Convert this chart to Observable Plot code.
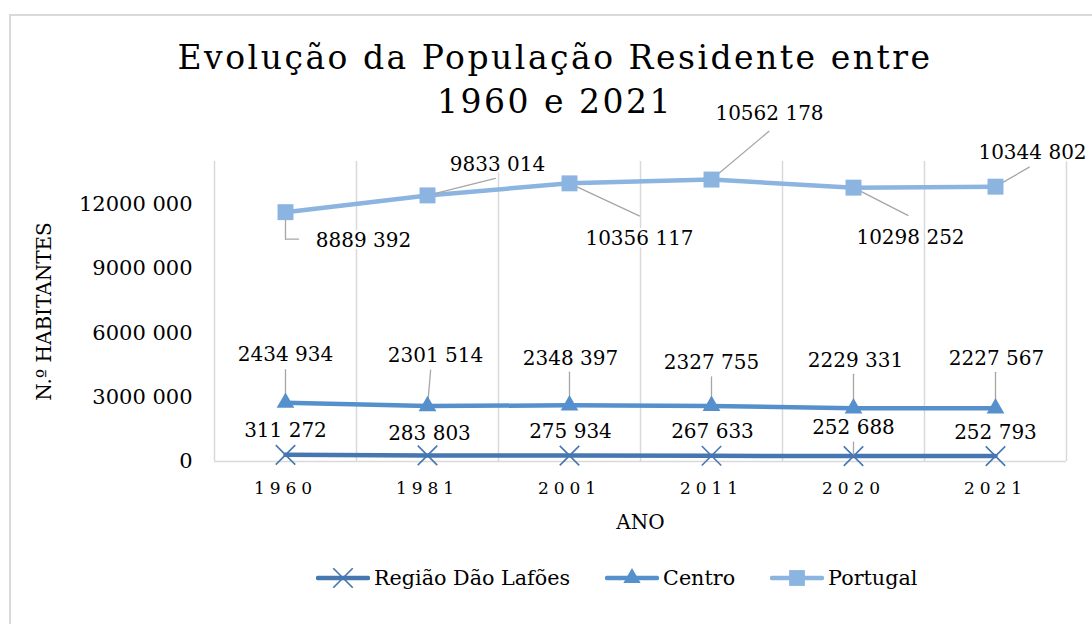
<!DOCTYPE html>
<html>
<head>
<meta charset="utf-8">
<script src="https://cdn.jsdelivr.net/npm/d3@7"></script>
<script src="https://cdn.jsdelivr.net/npm/@observablehq/plot@0.6"></script>
<style>
  html, body { margin: 0; padding: 0; background: #fff; }
  #wrap { position: relative; width: 1092px; height: 624px; overflow: hidden; background: #fff; font-family: "DejaVu Serif", serif; }
  #frame { position: absolute; left: 9px; top: 14px; width: 2000px; height: 2000px; border-left: 2px solid #d9d9d9; border-top: 2px solid #d9d9d9; }
  #chart { position: absolute; left: 0; top: 0; }
  #title { position: absolute; left: 0; top: 36px; width: 1110px; text-align: center; font-size: 33px; line-height: 44px; letter-spacing: 2.5px; color: #000; }
  #legend { position: absolute; left: 316px; top: 566px; display: flex; align-items: center; gap: 35px; font-size: 20.7px; color: #000; }
  #legend .item { display: flex; align-items: center; gap: 4px; }
  #legend svg { display: block; }
  g[aria-label="x-axis tick label"] text { letter-spacing: 5px; }
  g[aria-label="y-axis label"] text { font-size: 20px; }
  g[aria-label="x-axis label"] text { font-size: 20px; }
</style>
</head>
<body>
<div id="wrap">
  <div id="frame"></div>
  <div id="chart"></div>
  <div id="title">Evolução da População Residente entre<br>1960 e 2021</div>
  <div id="legend"></div>
</div>
<script>
// ---- data ----
const years = ["1960", "1981", "2001", "2011", "2020", "2021"];
const seriesNames = ["Região Dão Lafões", "Centro", "Portugal"];
const daoLafoes = [311272, 283803, 275934, 267633, 252688, 252793];
const centro = [2434934, 2301514, 2348397, 2327755, 2229331, 2227567];
const portugal = [8889392, 9833014, 10356117, 10562178, 10298252, 10344802];
const yTicks = [0, 3000000, 6000000, 9000000, 12000000];
const yMax = 14000000;

// ---- styles / layout ----
const colors = ["#4677b0", "#5690cc", "#8cb4e0"];
const symbols = ["times", "triangle", "square"];
// label offsets in px [dx, dy] from each point
const labelOffsets = [
  [[0, -24], [2, -22], [1, -24], [1, -24], [0, -28], [0, -23]],
  [[0, -48], [8, -51], [1, -47], [0, -43], [2, -48], [1, -50]],
  [[78, 28], [70, -31], [70, 55], [58, -66], [57, 50], [37, -34]]
];
// leader lines [length px, angle deg] or null
const leaders = [
  [null, null, null, null, [14, 0], null],
  [[33, 0], [36, 5], [33, 0], [29, 0], [34, 0], [36, 0]],
  [[27, 180], [70, 76], [77, 115], [75, 50], [61, 117], [39, 60]]
];

const fmt = v => v >= 1000 ? Math.floor(v / 1000) + " " + String(v % 1000).padStart(3, "0") : String(v);

const values = [daoLafoes, centro, portugal];
const rows = [];
seriesNames.forEach((s, si) => {
  years.forEach((y, i) => {
    const top = d3.sum(values.slice(0, si + 1), arr => arr[i]); // stacked line chart
    rows.push({series: s, si, i, year: y, value: values[si][i], top});
  });
});
const boundaries = d3.range(years.length + 1).map(k => k - 0.5);

const lineShape = { draw(context, l) { context.moveTo(0, 0); context.lineTo(0, -l); } };

const leaderRows = rows.filter(d => leaders[d.si][d.i]).map(d => ({...d, len: leaders[d.si][d.i][0], ang: leaders[d.si][d.i][1]}));

const textMarks = rows.map(d => Plot.text([d], {
  x: "i", y: "top", text: d => fmt(d.value),
  dx: labelOffsets[d.si][d.i][0], dy: labelOffsets[d.si][d.i][1],
  fontSize: 20, fill: "#000", stroke: "white", strokeWidth: 5
}));

const chart = Plot.plot({
  width: 1092,
  height: 624,
  marginLeft: 214,
  marginRight: 26,
  marginTop: 161,
  marginBottom: 163,
  style: { background: "transparent", fontFamily: "DejaVu Serif, serif", color: "#000" },
  x: { type: "linear", domain: [-0.5, years.length - 0.5] },
  y: { domain: [0, yMax] },
  length: { type: "identity" },
  color: { domain: seriesNames, range: colors },
  marks: [
    Plot.ruleX(boundaries, { stroke: "#d9d9d9", strokeWidth: 1.5 }),
    Plot.ruleY([0], { stroke: "#d9d9d9", strokeWidth: 1.5 }),
    Plot.axisY({ ticks: yTicks, tickFormat: fmt, tickSize: 0, tickPadding: 22, fontSize: 21,
      label: "N.º HABITANTES", labelAnchor: "center", labelOffset: 178, labelArrow: "none" }),
    Plot.axisX({ ticks: d3.range(years.length), tickFormat: i => years[i], tickSize: 0, tickPadding: 20, fontSize: 17,
      label: "ANO", labelAnchor: "center", labelOffset: 67, labelArrow: "none" }),
    Plot.line(rows, { x: "i", y: "top", z: "series", stroke: "series", strokeWidth: 4.5 }),
    Plot.vector(leaderRows, { x: "i", y: "top", length: "len", rotate: "ang", anchor: "start", shape: lineShape,
      stroke: "#a6a6a6", strokeWidth: 1.3, fill: "none" }),
    Plot.vector(leaderRows.filter(d => d.si === 2 && d.i === 0), { x: "i", y: "top", length: () => 13, rotate: 90, anchor: "start",
      shape: lineShape, dy: 27, stroke: "#a6a6a6", strokeWidth: 1.3, fill: "none" }),
    Plot.dot(rows.filter(d => d.si === 0), { x: "i", y: "top", symbol: symbols[0], r: 8.9, stroke: colors[0], strokeWidth: 1.6 }),
    Plot.dot(rows.filter(d => d.si === 1), { x: "i", y: "top", symbol: symbols[1], r: 6.6, fill: colors[1], stroke: "none" }),
    Plot.dot(rows.filter(d => d.si === 2), { x: "i", y: "top", symbol: symbols[2], r: 9, fill: colors[2], stroke: "none" }),
    ...textMarks
  ]
});
document.getElementById("chart").appendChild(chart);

// legend
const legend = document.getElementById("legend");
seriesNames.forEach((s, si) => {
  const item = document.createElement("div");
  item.className = "item";
  const sym = d3.symbol(si === 0 ? d3.symbolTimes : si === 1 ? d3.symbolTriangle : d3.symbolSquare,
    si === 0 ? 250 : si === 1 ? 130 : 250)();
  item.innerHTML = `<svg width="54" height="20"><line x1="2" y1="10" x2="52" y2="10" stroke="${colors[si]}" stroke-width="4.5" stroke-linecap="round"/>` +
    `<path d="${sym}" transform="translate(27,10)" fill="${si === 0 ? "none" : colors[si]}" stroke="${si === 0 ? colors[si] : "none"}" stroke-width="1.6"/></svg><span>${s}</span>`;
  legend.appendChild(item);
});
</script>
</body>
</html>
